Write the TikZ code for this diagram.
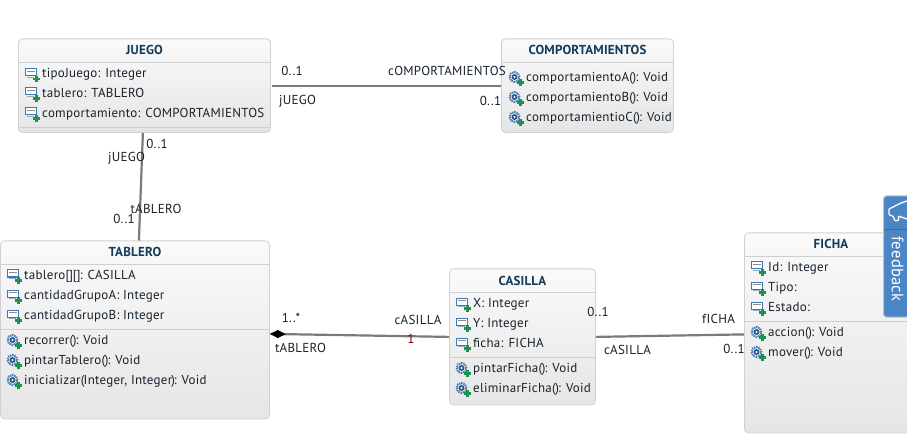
\documentclass[tikz,border=0pt]{standalone}
\usepackage{fontspec}
\setmainfont{PT Sans}
\newfontfamily\rowf[LetterSpace=2]{PT Sans}
\newfontfamily\titlef[LetterSpace=1.5]{PT Sans}
\usetikzlibrary{arrows.meta,calc}
\definecolor{titlec}{HTML}{123A5A}
\definecolor{textc}{HTML}{18222C}
\definecolor{sepc}{HTML}{CFCFCF}
\definecolor{iconb}{HTML}{3C78B4}
\definecolor{icong}{HTML}{1E9050}
\definecolor{tabc}{HTML}{4A86C6}
\tikzset{
  umlbox/.style={draw=black!18,line width=.8pt,rounded corners=4pt,anchor=north west,inner sep=0pt,top color=white!98!black,bottom color=black!10},
  septr/.style={draw=sepc,line width=.9pt},
  boxtitle/.style={anchor=base,font=\titlef\fontsize{13}{15}\selectfont\bfseries,text=titlec,inner sep=0pt},
  rowtext/.style={anchor=base west,font=\rowf\fontsize{13}{15}\selectfont,text=textc,inner sep=0pt},
  endlabel/.style={anchor=center,font=\rowf\fontsize{13}{15}\selectfont,text=textc,inner sep=0pt},
  assoc/.style={draw=black!52,line width=2.2pt},
}
\newcommand{\pp}{(\kern-.4pt)\kern-.8pt}
\newcommand{\plusmark}[2]{%
  \fill[icong] (#1-1.2,#2-3.4) rectangle (#1+1.2,#2+3.4);
  \fill[icong] (#1-3.4,#2-1.2) rectangle (#1+3.4,#2+1.2);
}
\newcommand{\attr}[4]{% name, x of text, centre y, text
  \draw[iconb,line width=1pt,fill=white] (#2-17,#3-5) rectangle (#2-5.5,#3+2);
  \draw[black!45,line width=.8pt] (#2-15,#3-2.5) -- (#2-7.5,#3-2.5);
  \draw[iconb!60,line width=.8pt] (#2-15,#3+3.6) -- (#2-8,#3+3.6);
  \plusmark{#2-5.5}{#3+5.5}
  \node[rowtext] (#1) at (#2,#3+4.3) {#4};
}
\newcommand{\oper}[4]{% name, x of text, centre y, text
  \draw[iconb,line width=2pt,dash pattern=on 1.3pt off .9pt] (#2-11.5,#3) circle (5pt);
  \fill[iconb!75!black] (#2-11.5,#3) circle (3pt);
  \fill[white] (#2-11.5,#3) circle (1.2pt);
  \plusmark{#2-5.5}{#3+5.5}
  \node[rowtext] (#1) at (#2,#3+4.3) {#4};
}
\begin{document}
\begin{tikzpicture}[x=1pt,y=-1pt]
\useasboundingbox (0,0) rectangle (907,446);
\clip (0,0) rectangle (907,446);
\fill[white] (0,0) rectangle (907,446);

% class boxes
\node[umlbox,minimum width=252pt,minimum height=93.5pt] (juego) at (18,38.5) {};
\node[umlbox,minimum width=172pt,minimum height=93.5pt] (comp) at (501,38.5) {};
\node[umlbox,minimum width=269pt,minimum height=178pt] (tablero) at (0,240.5) {};
\node[umlbox,minimum width=146pt,minimum height=136pt] (casilla) at (449,268.5) {};
\node[umlbox,minimum width=200pt,minimum height=200pt] (ficha) at (744,232.5) {};

% connectors
\draw[assoc,shorten <=1.5pt] (juego.east) -- (comp.west);
\draw[assoc] ([xshift=-1.5pt]juego.south) -- ([xshift=4pt]tablero.north);
\draw[assoc,{Diamond[length=16pt,width=8pt,black]}-] ([yshift=-4pt]tablero.east) -- (casilla.west);
\draw[assoc] (casilla.east) -- ([yshift=-1.5pt]ficha.west);

% separators
\draw[septr] (juego.north west |- 0,62) -- (juego.north east |- 0,62);
\draw[septr] (juego.north west |- 0,127) -- (juego.north east |- 0,127);
\draw[septr] (comp.north west |- 0,62) -- (comp.north east |- 0,62);
\draw[septr] (tablero.north west |- 0,264) -- (tablero.north east |- 0,264);
\draw[septr] (tablero.north west |- 0,329) -- (tablero.north east |- 0,329);
\draw[septr] (casilla.north west |- 0,292.5) -- (casilla.north east |- 0,292.5);
\draw[septr] (casilla.north west |- 0,357) -- (casilla.north east |- 0,357);
\draw[septr] (ficha.north west |- 0,256) -- (ficha.north east |- 0,256);
\draw[septr] (ficha.north west |- 0,321) -- (ficha.north east |- 0,321);

% titles
\node[boxtitle] (tj) at (144.5,55) {JUEGO};
\node[boxtitle] (tc) at (587.5,55) {COMPORTAMIENTOS};
\node[boxtitle] (tt) at (135,257) {TABLERO};
\node[boxtitle] (tk) at (522.5,285.5) {CASILLA};
\node[boxtitle] (tf) at (831,249) {FICHA};

% JUEGO
\attr{j1}{42}{73.5}{tipoJuego: Integer}
\attr{j2}{42}{93}{tablero: TABLERO}
\attr{j3}{42}{113}{comportamiento: COMPORTAMIENTOS}
% COMPORTAMIENTOS
\oper{c1}{526}{77}{comportamientoA\pp: Void}
\oper{c2}{526}{97}{comportamientoB\pp: Void}
\oper{c3}{526}{117}{comportamientioC\pp: Void}
% TABLERO
\attr{t1}{24}{275}{tablero[\kern-.4pt]\kern-.2pt[\kern-.4pt]\kern-.6pt: CASILLA}
\attr{t2}{24}{295}{cantidadGrupoA: Integer}
\attr{t3}{24}{315}{cantidadGrupoB: Integer}
\oper{t4}{24}{340}{recorrer\pp: Void}
\oper{t5}{24}{360}{pintarTablero\pp: Void}
\oper{t6}{24}{380}{inicializar(\kern-.8pt Integer, Integer\kern-.8pt)\kern-1.2pt: Void}
% CASILLA
\attr{k1}{473}{303}{X: Integer}
\attr{k2}{473}{323}{Y: Integer}
\attr{k3}{473}{343}{ficha: FICHA}
\oper{k4}{473}{368}{pintarFicha\pp: Void}
\oper{k5}{473}{388}{eliminarFicha\pp: Void}
% FICHA
\attr{f1}{768}{267}{Id: Integer}
\attr{f2}{768}{287}{Tipo:}
\attr{f3}{768}{307}{Estado:}
\oper{f4}{768}{332}{accion\pp: Void}
\oper{f5}{768}{352}{mover\pp: Void}

% end labels
\node[endlabel] (l1) at (292,71) {0..1};
\node[endlabel] (l2) at (447,71) {cOMPORTAMIENTOS};
\node[endlabel] (l3) at (297.5,101) {jUEGO};
\node[endlabel] (l4) at (490.5,101) {0..1};
\node[endlabel] (l5) at (126.5,158) {jUEGO};
\node[endlabel] (l6) at (157,144) {0..1};
\node[endlabel] (l7) at (156,209) {tABLERO};
\node[endlabel] (l8) at (124,219) {0..1};
\node[endlabel] (l9) at (291,318) {1..*};
\node[endlabel] (l10) at (418,320) {cASILLA};
\node[endlabel,text=red!55!black] (l11) at (411,339) {1};
\node[endlabel] (l12) at (300.5,348) {tABLERO};
\node[endlabel] (l13) at (598,312) {0..1};
\node[endlabel] (l14) at (718.5,319) {fICHA};
\node[endlabel] (l15) at (627.5,350) {cASILLA};
\node[endlabel] (l16) at (734,349) {0..1};

% feedback tab
\draw[draw=black!25,line width=1pt,fill=tabc,rounded corners=3pt] (883.5,196) rectangle (925,317);
\draw[tabc!80!black,line width=.8pt] (884,229) -- (907,229);
\node[rotate=-90,font=\rowf\fontsize{16.5}{18}\selectfont,text=white,inner sep=0pt] (fb) at (897.5,269) {feedback};
\draw[white,line width=1.3pt,rounded corners=1pt] (889,209) -- (901,203) -- (907,201);
\draw[white,line width=1.3pt,rounded corners=1pt] (889,209) -- (889,215) -- (893,216) -- (895,221) -- (899,220) -- (898,216) -- (907,219);
\end{tikzpicture}
\end{document}
